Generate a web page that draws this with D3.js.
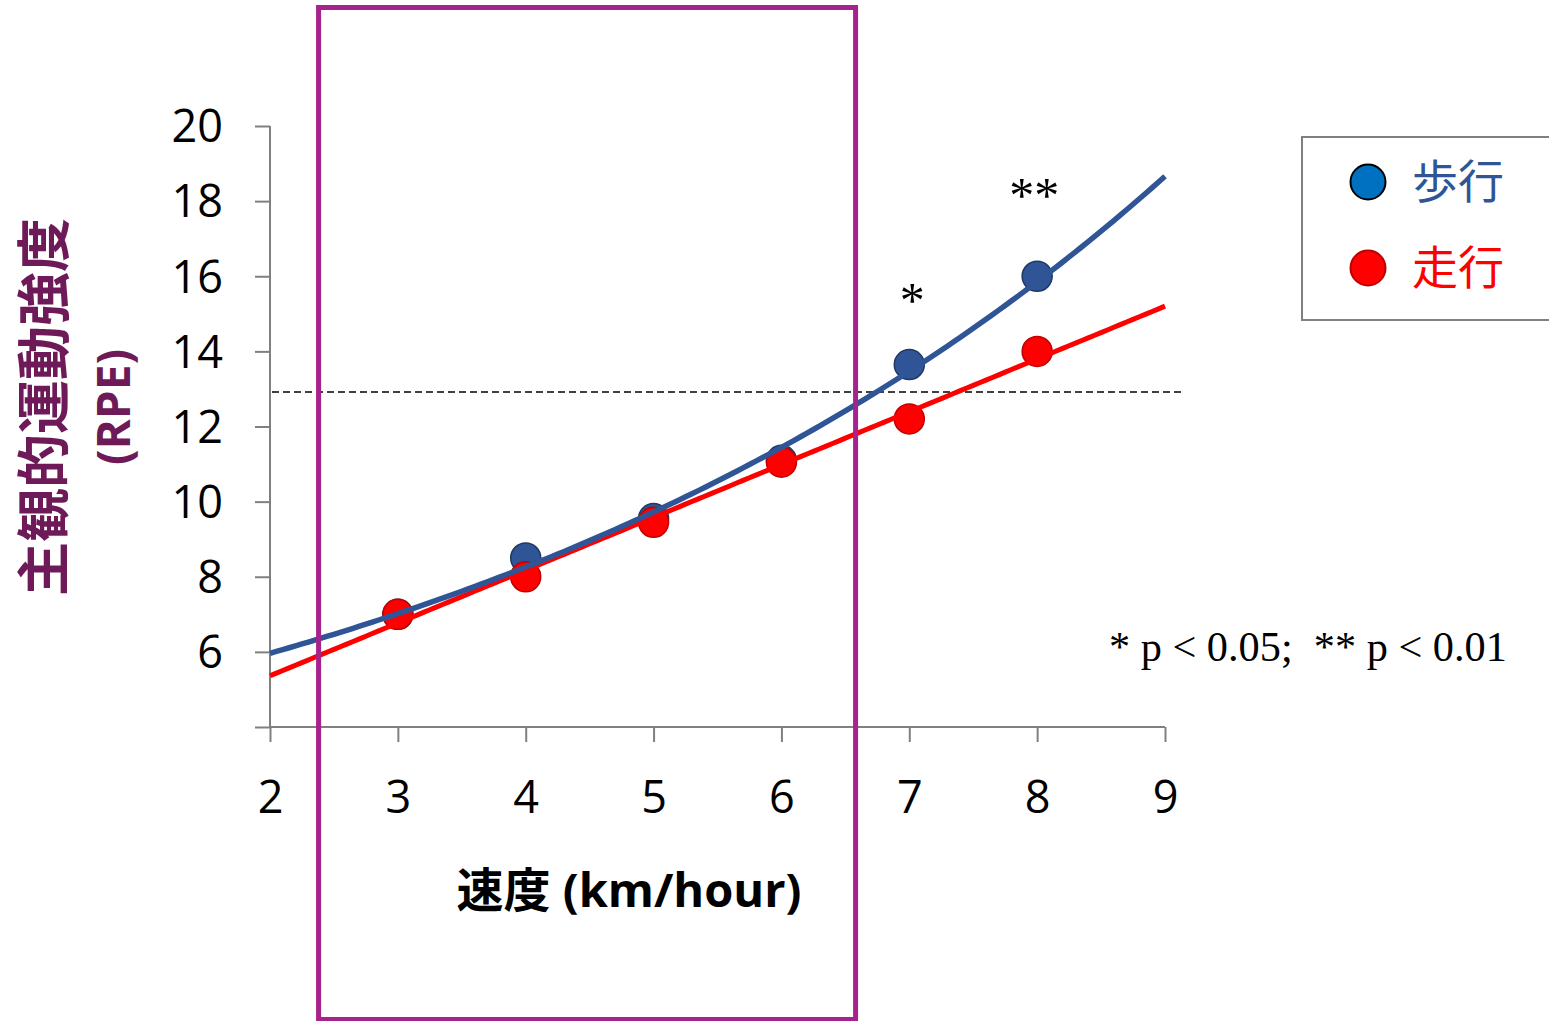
<!DOCTYPE html>
<html><head><meta charset="utf-8">
<script src="https://cdn.jsdelivr.net/npm/d3@7"></script>
<style>
html,body{margin:0;padding:0;background:#fff;}
svg{display:block;}
</style></head>
<body>
<svg id="chart" width="1549" height="1021"></svg>
<script>
// ---- data ----
const speeds = [3, 4, 5, 6, 7, 8];
const walkRPE = [7.0, 8.5, 9.55, 11.1, 13.65, 16.0];
const runRPE = [7.0, 8.0, 9.45, 11.05, 12.2, 14.0];
const xTicks = [2, 3, 4, 5, 6, 7, 8, 9];
const yTicks = [6, 8, 10, 12, 14, 16, 18, 20];
const thresholdRPE = [12.92];
const highlightSpeed = [2.38, 6.58];
const sigLabels = [{x: 7, y: 14.92, t: "*"}, {x: 8, y: 17.71, t: "**"}];
const legendLabels = ["歩行", "走行"];

const svg = d3.select("#chart");
const x = d3.scaleLinear().domain([2, 9]).range([270, 1165]);
const y = d3.scaleLinear().domain([4, 20]).range([727, 126]);

const AX = "#808080";
const BLUE = "#2f5597", BLUE_DK = "#203864";
const RED = "#ff0000", RED_DK = "#c00000";

// axes
const yAxis = svg.append("g").attr("transform", `translate(${x(2)},0)`)
  .call(d3.axisLeft(y).tickValues([4, ...yTicks]).tickSize(15).tickFormat(d => d === 4 ? "" : d));
const xAxis = svg.append("g").attr("transform", `translate(0,${y(4)})`)
  .call(d3.axisBottom(x).tickValues(xTicks).tickSize(15).tickFormat(d => d));
[yAxis, xAxis].forEach(g => {
  g.select(".domain").remove();
  g.selectAll("line").attr("stroke", AX).attr("stroke-width", 2);
  g.selectAll("text").attr("fill", "#000").style("font-family", "'Open Sans', 'Noto Sans', sans-serif").style("font-size", "45px");
});
yAxis.selectAll("text").attr("x", -47).attr("dy", "0.35em");
xAxis.selectAll("text").attr("y", 54).attr("dy", "0.71em");
// axis lines
svg.append("line").attr("x1", x(2)).attr("x2", x(2)).attr("y1", y(20)).attr("y2", y(4)).attr("stroke", AX).attr("stroke-width", 2);
svg.append("line").attr("x1", x(2)).attr("x2", x(9)).attr("y1", y(4)).attr("y2", y(4)).attr("stroke", AX).attr("stroke-width", 2);

// threshold dashed line
svg.append("line").attr("x1", x(2) + 2).attr("x2", 1185)
  .attr("y1", y(thresholdRPE[0])).attr("y2", y(thresholdRPE[0]))
  .attr("stroke", "#404040").attr("stroke-width", 2).attr("stroke-dasharray", "7,4");

// points
svg.append("g").selectAll("circle").data(speeds).join("circle")
  .attr("cx", d => x(d)).attr("cy", (d, i) => y(walkRPE[i])).attr("r", 15)
  .attr("fill", BLUE).attr("stroke", BLUE_DK).attr("stroke-width", 1.5);
svg.append("g").selectAll("circle").data(speeds).join("circle")
  .attr("cx", d => x(d)).attr("cy", (d, i) => y(runRPE[i])).attr("r", 15)
  .attr("fill", RED).attr("stroke", RED_DK).attr("stroke-width", 1.5);

// trend lines (least squares fits computed from the data)
function linFit(xs, ys) {
  const mx = d3.mean(xs), my = d3.mean(ys);
  const sxy = d3.sum(xs, (v, i) => (v - mx) * (ys[i] - my));
  const sxx = d3.sum(xs, v => (v - mx) * (v - mx));
  const b = sxy / sxx;
  return {a: my - b * mx, b};
}
const runFit = linFit(speeds, runRPE);
const walkFitLog = linFit(speeds, walkRPE.map(Math.log));
const sampleXs = d3.range(0, 141).map(i => 2 + i * 0.05);
const line = d3.line().x(d => x(d[0])).y(d => y(d[1]));

svg.append("path").datum(sampleXs.map(v => [v, runFit.a + runFit.b * v]))
  .attr("d", line).attr("fill", "none").attr("stroke", RED).attr("stroke-width", 5);
svg.append("path").datum(sampleXs.map(v => [v, Math.exp(walkFitLog.a + walkFitLog.b * v)]))
  .attr("d", line).attr("fill", "none").attr("stroke", BLUE).attr("stroke-width", 5.5);

// significance marks
svg.append("g").selectAll("text").data(sigLabels).join("text")
  .attr("x", d => x(d.x) + (d.t === "*" ? 3 : -3)).attr("y", d => y(d.y))
  .attr("text-anchor", "middle")
  .style("font-family", "'Liberation Serif', 'Times New Roman', serif").style("font-size", "50px")
  .text(d => d.t);

svg.append("text").attr("x", 1109).attr("y", 661)
  .style("font-family", "'Liberation Serif', 'Times New Roman', serif").style("font-size", "42.3px")
  .attr("xml:space", "preserve")
  .text("* p < 0.05;  ** p < 0.01");

// axis titles
svg.append("text").attr("x", 629).attr("y", 907).attr("text-anchor", "middle")
  .style("font-family", "'Open Sans', 'Noto Sans CJK JP', sans-serif").style("font-weight", "bold").style("font-size", "47px")
  .text("速度 (km/hour)");

const yt = svg.append("g").attr("transform", "translate(0,407) rotate(-90)")
  .style("font-family", "'Noto Sans CJK JP', sans-serif").style("font-weight", "bold")
  .attr("fill", "#6e1a58").attr("text-anchor", "middle");
yt.append("text").attr("x", 0).attr("y", 64).style("font-size", "54px").text("主観的運動強度");
yt.append("text").attr("x", 0).attr("y", 130).style("font-size", "46px")
  .style("font-family", "'Open Sans', sans-serif").text("(RPE)");

// legend
svg.append("rect").attr("x", 1302).attr("y", 137).attr("width", 270).attr("height", 183)
  .attr("fill", "none").attr("stroke", AX).attr("stroke-width", 2);
const lg = svg.append("g");
lg.append("circle").attr("cx", 1368).attr("cy", 182).attr("r", 17.5).attr("fill", "#0070c0").attr("stroke", "#000").attr("stroke-width", 2);
lg.append("circle").attr("cx", 1368).attr("cy", 268).attr("r", 17.5).attr("fill", RED).attr("stroke", RED_DK).attr("stroke-width", 2);
lg.append("text").attr("x", 1412).attr("y", 198).attr("fill", BLUE)
  .style("font-family", "'Noto Sans CJK JP', sans-serif").style("font-size", "46px").text(legendLabels[0]);
lg.append("text").attr("x", 1412).attr("y", 284).attr("fill", RED)
  .style("font-family", "'Noto Sans CJK JP', sans-serif").style("font-size", "46px").text(legendLabels[1]);

// highlight rectangle
svg.append("rect")
  .attr("x", x(highlightSpeed[0])).attr("y", 7.5)
  .attr("width", x(highlightSpeed[1]) - x(highlightSpeed[0])).attr("height", 1012)
  .attr("fill", "none").attr("stroke", "#a6228c").attr("stroke-width", 5);
</script>
</body></html>
